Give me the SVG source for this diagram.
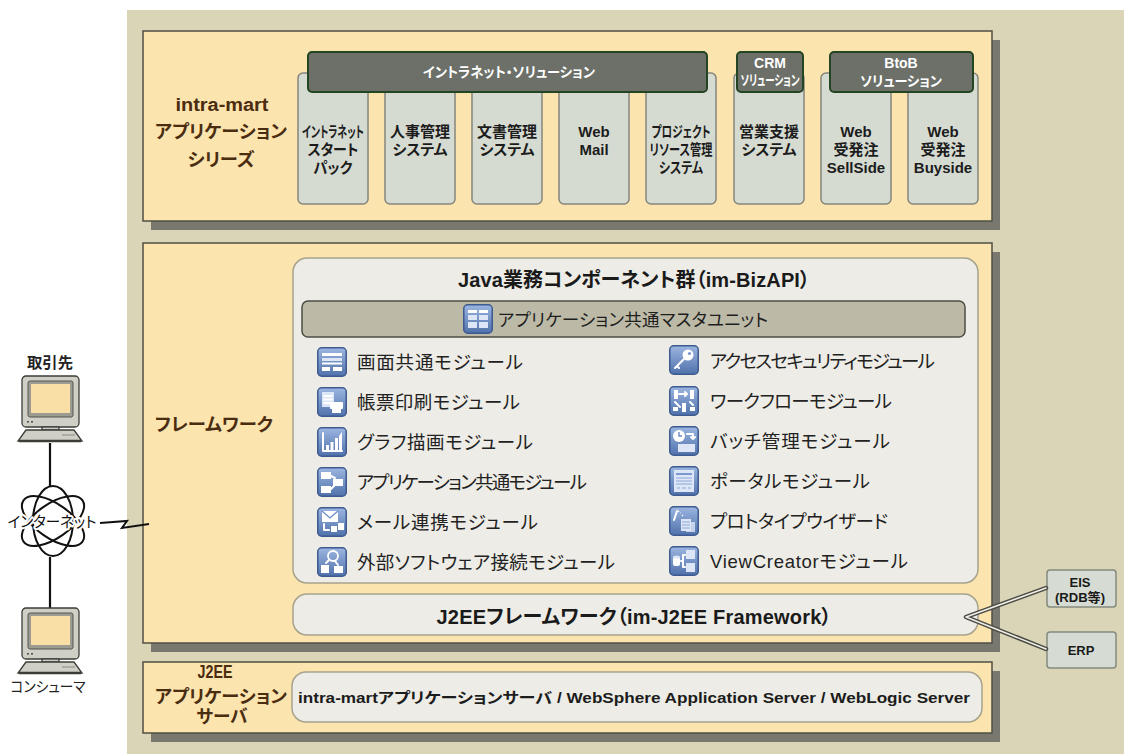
<svg xmlns="http://www.w3.org/2000/svg" width="1124" height="754" viewBox="0 0 1124 754">
  <defs>
    <style>
      .bg { fill: #d9d5b6; }
      .shadow { fill: #78786f; }
      .panel { fill: #fce4ae; stroke: #4f4f45; stroke-width: 1.5; }
      .col { fill: #d6dbd2; stroke: #85857c; stroke-width: 1.5; }
      .hdr { fill: #6c7068; stroke: #244524; stroke-width: 2; }
      .inner { fill: #edece6; stroke: #a6a28e; stroke-width: 1.5; }
      .bar { fill: #bcbaa6; stroke: #4e4e46; stroke-width: 1.5; }
      .ext { fill: #d6dcd3; stroke: #858a7e; stroke-width: 1.5; }
      text { font-family: "Liberation Sans", "Noto Sans CJK JP", sans-serif; font-feature-settings: "palt"; }
      .lbl { font-weight: bold; font-size: 18px; fill: #4a2c10; text-anchor: middle; }
      .ct { font-weight: bold; font-size: 15px; fill: #1c1c1c; text-anchor: middle; }
      .ht { font-weight: bold; font-size: 14px; fill: #ffffff; text-anchor: middle; }
      .title { font-weight: bold; font-size: 20px; fill: #1a1a1a; text-anchor: middle; }
      .mod { font-size: 18.5px; fill: #222222; }
      .unit { font-size: 17.5px; fill: #1e1e1e; }
      .et { font-weight: bold; font-size: 13px; fill: #1a1a1a; text-anchor: middle; }
      .pc { font-size: 15px; fill: #222222; text-anchor: middle; }
      .net { font-size: 15px; fill: #111111; text-anchor: middle; paint-order: stroke; stroke: #ffffff; stroke-width: 4px; stroke-linejoin: round; }
      .wire { fill: none; stroke: #111111; stroke-width: 2.2; }
      .pipeo { fill: none; stroke: #4a4a44; stroke-width: 4.5; stroke-linecap: round; stroke-linejoin: round; }
      .pipei { fill: none; stroke: #eeeee6; stroke-width: 1.6; stroke-linecap: round; stroke-linejoin: round; }
      .gw { fill: #ffffff; }
      .gl { fill: #dde6f6; }
      .gs { fill: none; stroke: #ffffff; stroke-width: 2; stroke-linecap: round; stroke-linejoin: round; }
      .pcbody { fill: #cfcfc5; stroke: #3d3d38; stroke-width: 1.3; }
      .pcbezel { fill: #9c9c92; stroke: #55554e; stroke-width: 1; }
      .pcscreen { fill: #f9dfa6; }
    </style>
    <linearGradient id="icoGrad" x1="0" y1="0" x2="0" y2="1">
      <stop offset="0" stop-color="#9cb6e1"/>
      <stop offset="1" stop-color="#5071ab"/>
    </linearGradient>
    <symbol id="icoBase" viewBox="0 0 30 30">
      <rect x="0.75" y="0.75" width="28.5" height="28.5" rx="4" fill="url(#icoGrad)" stroke="#3d5b90" stroke-width="1.5"/>
    </symbol>
    <symbol id="computer" viewBox="0 0 66 70">
      <rect class="pcbody" x="5" y="1" width="57" height="51" rx="4"/>
      <rect class="pcbezel" x="11" y="6" width="45" height="36" rx="2"/>
      <rect class="pcscreen" x="14" y="9" width="39" height="29"/>
      <rect x="10" y="46" width="2" height="1.6" fill="#555"/>
      <rect x="14" y="46" width="2" height="1.6" fill="#555"/>
      <rect class="pcbody" x="25" y="52" width="17" height="3"/>
      <polygon class="pcbody" points="9,55 57,55 65,66 1,66"/>
      <line x1="2" y1="66" x2="64" y2="66" stroke="#3d3d38" stroke-width="2.5"/>
      <line x1="45" y1="60" x2="58" y2="60" stroke="#8a8a80" stroke-width="1"/>
    </symbol>
  </defs>

  <!-- backdrop -->
  <rect x="0" y="0" width="1124" height="754" fill="#ffffff"/>
  <rect class="bg" x="127" y="10" width="997" height="744"/>

  <!-- application series layer -->
  <g id="app-series">
    <rect class="shadow" x="151" y="40" width="849" height="190"/>
    <rect class="panel" x="143" y="31" width="849" height="190"/>
    <text class="lbl" x="222" y="111" textLength="93" lengthAdjust="spacingAndGlyphs">intra-mart</text>
    <text class="lbl" x="221" y="138" textLength="132" lengthAdjust="spacingAndGlyphs">アプリケーション</text>
    <text class="lbl" x="221" y="166" textLength="67" lengthAdjust="spacingAndGlyphs">シリーズ</text>
  </g>

  <g id="app-intranet-start">
    <rect class="col" x="298" y="73" width="70" height="131" rx="5"/>
    <text class="ct" x="333" y="137" font-size="14" textLength="62" lengthAdjust="spacingAndGlyphs">イントラネット</text>
    <text class="ct" x="333" y="155" textLength="51" lengthAdjust="spacingAndGlyphs">スタート</text>
    <text class="ct" x="333" y="173" textLength="39" lengthAdjust="spacingAndGlyphs">パック</text>
  </g>
  <g id="app-hr">
    <rect class="col" x="385" y="73" width="70" height="131" rx="5"/>
    <text class="ct" x="420" y="137">人事管理</text>
    <text class="ct" x="420" y="155">システム</text>
  </g>
  <g id="app-docs">
    <rect class="col" x="472" y="73" width="70" height="131" rx="5"/>
    <text class="ct" x="507" y="137">文書管理</text>
    <text class="ct" x="507" y="155">システム</text>
  </g>
  <g id="app-webmail">
    <rect class="col" x="559" y="73" width="70" height="131" rx="5"/>
    <text class="ct" x="594" y="137">Web</text>
    <text class="ct" x="594" y="155">Mail</text>
  </g>
  <g id="app-project">
    <rect class="col" x="646" y="73" width="70" height="131" rx="5"/>
    <text class="ct" x="681" y="137" font-size="14" textLength="59" lengthAdjust="spacingAndGlyphs">プロジェクト</text>
    <text class="ct" x="681" y="155" font-size="14" textLength="63" lengthAdjust="spacingAndGlyphs">リソース管理</text>
    <text class="ct" x="681" y="173" font-size="14" textLength="44" lengthAdjust="spacingAndGlyphs">システム</text>
  </g>
  <g id="app-sales">
    <rect class="col" x="734" y="73" width="70" height="131" rx="5"/>
    <text class="ct" x="769" y="137">営業支援</text>
    <text class="ct" x="769" y="155">システム</text>
  </g>
  <g id="app-sellside">
    <rect class="col" x="821" y="73" width="70" height="131" rx="5"/>
    <text class="ct" x="856" y="137">Web</text>
    <text class="ct" x="856" y="155">受発注</text>
    <text class="ct" x="856" y="173" font-size="14">SellSide</text>
  </g>
  <g id="app-buyside">
    <rect class="col" x="908" y="73" width="70" height="131" rx="5"/>
    <text class="ct" x="943" y="137">Web</text>
    <text class="ct" x="943" y="155">受発注</text>
    <text class="ct" x="943" y="173" font-size="14">Buyside</text>
  </g>

  <g id="sol-intranet">
    <rect class="hdr" x="308" y="52" width="399" height="40" rx="4"/>
    <text class="ht" x="509" y="77" textLength="172" lengthAdjust="spacingAndGlyphs">イントラネット・ソリューション</text>
  </g>
  <g id="sol-crm">
    <rect class="hdr" x="737" y="52" width="66" height="40" rx="4"/>
    <text class="ht" x="770" y="68">CRM</text>
    <text class="ht" x="770" y="85" font-size="12" textLength="59" lengthAdjust="spacingAndGlyphs">ソリューション</text>
  </g>
  <g id="sol-btob">
    <rect class="hdr" x="830" y="52" width="143" height="40" rx="4"/>
    <text class="ht" x="901" y="68">BtoB</text>
    <text class="ht" x="901" y="86" textLength="82" lengthAdjust="spacingAndGlyphs">ソリューション</text>
  </g>

  <!-- framework layer -->
  <g id="framework">
    <rect class="shadow" x="151" y="252" width="849" height="400"/>
    <rect class="panel" x="143" y="243" width="849" height="400"/>
    <text class="lbl" x="214" y="431" textLength="118" lengthAdjust="spacingAndGlyphs">フレームワーク</text>
  </g>

  <g id="bizapi">
    <rect class="inner" x="293" y="258" width="685" height="325" rx="14"/>
    <text class="title" x="634" y="287" textLength="352" lengthAdjust="spacing">Java業務コンポーネント群（im-BizAPI）</text>
  </g>

  <g id="master-unit">
    <rect class="bar" x="302" y="301" width="663" height="36" rx="6"/>
    <g transform="translate(463,304)">
      <use href="#icoBase" width="30" height="30"/>
      <rect class="gw" x="5" y="6" width="9" height="3"/>
      <rect class="gl" x="5" y="11" width="9" height="5"/>
      <rect class="gl" x="5" y="18" width="9" height="6"/>
      <rect class="gw" x="16" y="6" width="9" height="3"/>
      <rect class="gl" x="16" y="11" width="9" height="5"/>
      <rect class="gl" x="16" y="18" width="9" height="6"/>
    </g>
    <text class="unit" x="498" y="326" textLength="270" lengthAdjust="spacing">アプリケーション共通マスタユニット</text>
  </g>

  <!-- left column modules -->
  <g id="mod-screen">
    <g transform="translate(317,347)">
      <use href="#icoBase" width="30" height="30"/>
      <rect class="gw" x="5" y="6" width="20" height="3"/>
      <rect class="gl" x="5" y="11" width="20" height="3"/>
      <rect class="gw" x="5" y="15.5" width="20" height="2"/>
      <rect class="gw" x="5" y="20" width="8" height="4"/>
      <rect class="gw" x="16" y="20" width="9" height="4"/>
    </g>
    <text class="mod" x="357" y="369" textLength="166" lengthAdjust="spacing">画面共通モジュール</text>
  </g>
  <g id="mod-print">
    <g transform="translate(317,387)">
      <use href="#icoBase" width="30" height="30"/>
      <rect class="gl" x="5" y="5" width="12" height="15"/>
      <path class="gs" d="M7,9 H15 M7,12.5 H15 M7,16 H13" stroke="#7f9ad0" stroke-width="1.2"/>
      <rect class="gw" x="13" y="15" width="13" height="7" rx="1"/>
      <rect class="gw" x="15" y="21" width="9" height="5"/>
    </g>
    <text class="mod" x="357" y="409" textLength="163" lengthAdjust="spacing">帳票印刷モジュール</text>
  </g>
  <g id="mod-graph">
    <g transform="translate(317,427)">
      <use href="#icoBase" width="30" height="30"/>
      <path class="gs" d="M6,6 V24 H25" stroke-width="1.6"/>
      <rect class="gw" x="9" y="18" width="3" height="5"/>
      <rect class="gw" x="13.5" y="15" width="3" height="8"/>
      <rect class="gw" x="18" y="11" width="3" height="12"/>
      <path class="gw" d="M22,23 L22,9 L25,5 L25,23 Z"/>
    </g>
    <text class="mod" x="357" y="449" textLength="176" lengthAdjust="spacing">グラフ描画モジュール</text>
  </g>
  <g id="mod-appcommon">
    <g transform="translate(317,467)">
      <use href="#icoBase" width="30" height="30"/>
      <rect class="gw" x="4" y="5" width="10" height="7"/>
      <rect class="gw" x="16" y="12" width="10" height="7"/>
      <rect class="gw" x="4" y="19" width="10" height="7"/>
      <path class="gs" d="M14,9 L18,11 M14,22 L17,19" stroke-width="1.4"/>
    </g>
    <text class="mod" x="357" y="489" textLength="230" lengthAdjust="spacing">アプリケーション共通モジュール</text>
  </g>
  <g id="mod-mail">
    <g transform="translate(317,507)">
      <use href="#icoBase" width="30" height="30"/>
      <rect class="gw" x="5" y="4" width="16" height="11"/>
      <path d="M5,4 L13,11 L21,4" fill="none" stroke="#6d8cc6" stroke-width="1.3"/>
      <path class="gs" d="M7,17 V23 H12" stroke-width="1.6"/>
      <rect class="gw" x="14" y="19" width="6" height="6"/>
      <rect class="gw" x="21" y="16" width="6" height="7"/>
    </g>
    <text class="mod" x="357" y="529" textLength="181" lengthAdjust="spacing">メール連携モジュール</text>
  </g>
  <g id="mod-external">
    <g transform="translate(317,547)">
      <use href="#icoBase" width="30" height="30"/>
      <circle cx="16" cy="9" r="5" fill="none" stroke="#ffffff" stroke-width="1.8"/>
      <path class="gs" d="M12.5,12.5 L9,16 M18,14 L21,18" stroke-width="1.8"/>
      <rect class="gw" x="4" y="18" width="8" height="8"/>
      <rect class="gw" x="17" y="19" width="9" height="7"/>
    </g>
    <text class="mod" x="357" y="569" textLength="258" lengthAdjust="spacing">外部ソフトウェア接続モジュール</text>
  </g>

  <!-- right column modules -->
  <g id="mod-security">
    <g transform="translate(669,345)">
      <use href="#icoBase" width="30" height="30"/>
      <circle cx="19" cy="10" r="5.5" class="gw"/>
      <circle cx="20.5" cy="8.5" r="1.6" fill="#7a97cf"/>
      <path class="gs" d="M15,14 L6,23 M8,21 L10,23" stroke-width="2.6"/>
    </g>
    <text class="mod" x="710" y="368" textLength="225" lengthAdjust="spacing">アクセスセキュリティモジュール</text>
  </g>
  <g id="mod-workflow">
    <g transform="translate(669,386)">
      <use href="#icoBase" width="30" height="30"/>
      <rect class="gw" x="5" y="4" width="4" height="9"/>
      <rect class="gw" x="21" y="4" width="4" height="9"/>
      <path class="gs" d="M10,8 H18 M16,6 L18,8 L16,10" stroke-width="1.5"/>
      <rect class="gw" x="13" y="17" width="4" height="9"/>
      <path class="gs" d="M6,16 L11,21 M21,16 L24,19" stroke-width="1.5"/>
      <rect class="gw" x="4" y="21" width="5" height="4"/>
      <rect class="gw" x="21" y="21" width="5" height="4"/>
    </g>
    <text class="mod" x="710" y="408" textLength="182" lengthAdjust="spacing">ワークフローモジュール</text>
  </g>
  <g id="mod-batch">
    <g transform="translate(669,426)">
      <use href="#icoBase" width="30" height="30"/>
      <circle cx="10" cy="10" r="6" class="gw"/>
      <path d="M10,6 V10 H13" fill="none" stroke="#6d8cc6" stroke-width="1.4"/>
      <path class="gs" d="M18,8 H24 V13 M22,11 L24,13 L26,11" stroke-width="1.5"/>
      <rect class="gl" x="9" y="18" width="17" height="8"/>
    </g>
    <text class="mod" x="710" y="448" textLength="180" lengthAdjust="spacing">バッチ管理モジュール</text>
  </g>
  <g id="mod-portal">
    <g transform="translate(669,466)">
      <use href="#icoBase" width="30" height="30"/>
      <rect class="gl" x="5" y="4" width="20" height="22"/>
      <rect x="7" y="7" width="16" height="2" fill="#7a97cf"/>
      <path d="M7,12 H23 M7,15 H23 M7,18 H23 M8,22 H11 M13,22 H17 M19,22 H22" stroke="#8ea7d8" stroke-width="1.2"/>
    </g>
    <text class="mod" x="710" y="488" textLength="160" lengthAdjust="spacing">ポータルモジュール</text>
  </g>
  <g id="mod-prototype">
    <g transform="translate(669,506)">
      <use href="#icoBase" width="30" height="30"/>
      <path class="gs" d="M5,14 L8,5" stroke-width="1.5"/>
      <path d="M9,5 L12,7 M13,9 L15,11" stroke="#ffffff" stroke-width="1.2" stroke-dasharray="1.5 1.5"/>
      <rect class="gl" x="12" y="13" width="10" height="12"/>
      <rect class="gl" x="17" y="16" width="9" height="10" opacity="0.8"/>
      <path d="M13,16 H21 M13,19 H21 M13,22 H21" stroke="#8ea7d8" stroke-width="1"/>
    </g>
    <text class="mod" x="710" y="528" textLength="178" lengthAdjust="spacing">プロトタイプウイザード</text>
  </g>
  <g id="mod-viewcreator">
    <g transform="translate(669,546)">
      <use href="#icoBase" width="30" height="30"/>
      <rect class="gw" x="4" y="11" width="7" height="9" rx="2"/>
      <ellipse cx="7.5" cy="11" rx="3.5" ry="1.5" fill="#dde6f6"/>
      <path class="gs" d="M12,15 H14 M14,9 V21 M14,9 H16 M14,21 H16" stroke-width="1.2"/>
      <rect class="gl" x="17" y="4" width="9" height="9"/>
      <rect class="gl" x="17" y="17" width="9" height="9"/>
    </g>
    <text class="mod" x="710" y="568" textLength="198" lengthAdjust="spacing">ViewCreatorモジュール</text>
  </g>

  <g id="j2ee-framework">
    <rect class="inner" x="293" y="594" width="685" height="41" rx="14"/>
    <text class="title" x="634" y="624" textLength="395" lengthAdjust="spacing">J2EEフレームワーク（im-J2EE Framework）</text>
  </g>

  <!-- application server layer -->
  <g id="app-server">
    <rect class="shadow" x="151" y="671" width="849" height="71"/>
    <rect class="panel" x="143" y="662" width="849" height="71"/>
    <text class="lbl" x="215" y="678" font-size="16" textLength="35" lengthAdjust="spacingAndGlyphs">J2EE</text>
    <text class="lbl" x="221" y="703" textLength="132" lengthAdjust="spacingAndGlyphs">アプリケーション</text>
    <text class="lbl" x="222" y="723" textLength="51" lengthAdjust="spacingAndGlyphs">サーバ</text>
    <rect class="inner" x="292" y="672" width="690" height="50" rx="14"/>
    <text class="ct" x="634" y="703" font-size="16.5" textLength="672" lengthAdjust="spacingAndGlyphs">intra-martアプリケーションサーバ / WebSphere Application Server / WebLogic Server</text>
  </g>

  <!-- external systems -->
  <g id="eis">
    <rect class="ext" x="1047" y="570" width="69" height="37" rx="3"/>
    <text class="et" x="1080" y="587">EIS</text>
    <text class="et" x="1080" y="602" textLength="50" lengthAdjust="spacingAndGlyphs">(RDB等)</text>
  </g>
  <g id="erp">
    <rect class="ext" x="1047" y="632" width="69" height="36" rx="3"/>
    <text class="et" x="1081" y="655">ERP</text>
  </g>

  <!-- connectors: client wiring, internet link and back-end pipes -->
  <g id="connectors">
    <line class="wire" x1="50" y1="443" x2="50" y2="486"/>
    <line class="wire" x1="50" y1="557" x2="50" y2="609"/>
    <polyline fill="none" stroke="#111" stroke-width="2" stroke-linejoin="miter" points="100,523 127,521 122,528 149,524"/>
    <path class="pipeo" d="M1046,588 L966,617 L1046,649"/>
    <path class="pipei" d="M1046,588 L966,617 L1046,649"/>
  </g>

  <!-- clients and network -->
  <g id="client-partner">
    <text class="pc" x="50" y="368" font-weight="bold" textLength="46" lengthAdjust="spacingAndGlyphs">取引先</text>
    <use href="#computer" x="17" y="375" width="66" height="70"/>
  </g>
  <g id="internet">
    <ellipse cx="53" cy="521" rx="36" ry="17" fill="none" stroke="#111" stroke-width="2" transform="rotate(35 53 521)"/>
    <ellipse cx="53" cy="521" rx="36" ry="17" fill="none" stroke="#111" stroke-width="2" transform="rotate(145 53 521)"/>
    <ellipse cx="53" cy="521" rx="35" ry="20" fill="none" stroke="#111" stroke-width="2" transform="rotate(90 53 521)"/>
    <text class="net" x="52" y="527" textLength="89" lengthAdjust="spacingAndGlyphs">インターネット</text>
  </g>
  <g id="client-consumer">
    <use href="#computer" x="17" y="607" width="66" height="70"/>
    <text class="pc" x="48" y="692" font-size="13.5" textLength="75" lengthAdjust="spacingAndGlyphs">コンシューマ</text>
  </g>
</svg>
